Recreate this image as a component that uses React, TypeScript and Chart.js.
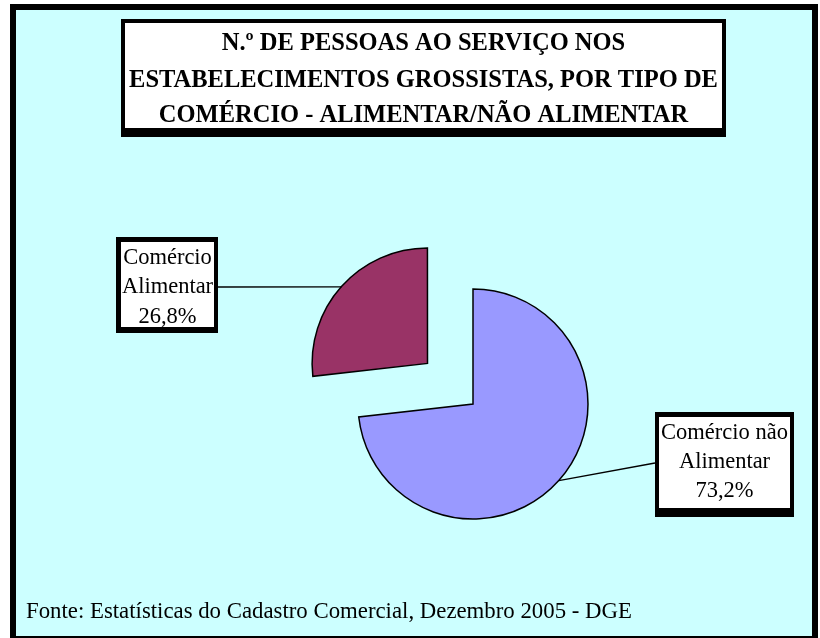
import React, { useEffect, useRef } from "react";
import { Chart, registerables } from "chart.js";

Chart.register(...registerables);

// ---- data ----
const categories = ["Comércio não Alimentar", "Comércio Alimentar"];
const values = [73.2, 26.8];
const sliceColors = ["#9999FF", "#993366"];
const sliceOffsets = [0, 244];
const labelFirstLines = [["Comércio não", "Alimentar"], ["Comércio", "Alimentar"]];
const titleLines = [
  "N.º DE PESSOAS AO SERVIÇO NOS",
  "ESTABELECIMENTOS GROSSISTAS, POR TIPO DE",
  "COMÉRCIO - ALIMENTAR/NÃO ALIMENTAR",
];
const footerText = "Fonte: Estatísticas do Cadastro Comercial, Dezembro 2005 - DGE";

// ---- layout (positions only) ----
const W = 820;
const H = 638;
const SERIF = '"Liberation Serif", "Times New Roman", serif';
const labelBoxes = [
  { outer: [655, 412, 794, 517], inner: [659, 417, 790, 508], base: 439, lh: 29, anchorY: 463, side: "left" },
  { outer: [116, 237, 218, 333], inner: [121, 242, 214, 327], base: 263.5, lh: 29.5, anchorY: 287, side: "right" },
];

const fmtPct = (v: number) => v.toFixed(1).replace(".", ",") + "%";

const decorPlugin = {
  id: "decor",
  beforeDraw(chart: any) {
    const ctx = chart.ctx as CanvasRenderingContext2D;
    ctx.save();
    ctx.fillStyle = "#ffffff";
    ctx.fillRect(0, 0, W, H);
    ctx.fillStyle = "#000000";
    ctx.fillRect(10, 4, 808, 640);
    ctx.fillStyle = "#CCFFFF";
    ctx.fillRect(16, 10, 796, 626);
    // title box
    ctx.fillStyle = "#000000";
    ctx.fillRect(121, 19, 605, 118);
    ctx.fillStyle = "#ffffff";
    ctx.fillRect(125, 23, 597, 105);
    ctx.fillStyle = "#000000";
    ctx.font = "bold 24.5px " + SERIF;
    ctx.textAlign = "center";
    ctx.textBaseline = "alphabetic";
    const tb = [50, 86.5, 122];
    titleLines.forEach((t, i) => ctx.fillText(t, 423.5, tb[i]));
    ctx.restore();
  },
  afterDatasetsDraw(chart: any) {
    const ctx = chart.ctx as CanvasRenderingContext2D;
    const meta = chart.getDatasetMeta(0);
    ctx.save();
    meta.data.forEach((arc: any, i: number) => {
      const p = arc.getProps(["x", "y", "startAngle", "endAngle", "outerRadius"], true);
      const mid = (p.startAngle + p.endAngle) / 2;
      const off = (sliceOffsets[i] || 0) / 4;
      const cx = p.x + Math.cos(mid) * off;
      const cy = p.y + Math.sin(mid) * off;
      const px = cx + Math.cos(mid) * p.outerRadius;
      const py = cy + Math.sin(mid) * p.outerRadius;
      const b = labelBoxes[i];
      const bx = b.side === "left" ? b.outer[0] : b.outer[2];
      ctx.strokeStyle = "#000";
      ctx.lineWidth = 1.3;
      ctx.beginPath();
      ctx.moveTo(px, py);
      ctx.lineTo(bx, b.anchorY);
      ctx.stroke();
    });
    labelBoxes.forEach((b, i) => {
      ctx.fillStyle = "#000";
      ctx.fillRect(b.outer[0], b.outer[1], b.outer[2] - b.outer[0], b.outer[3] - b.outer[1]);
      ctx.fillStyle = "#fff";
      ctx.fillRect(b.inner[0], b.inner[1], b.inner[2] - b.inner[0], b.inner[3] - b.inner[1]);
      ctx.fillStyle = "#000";
      ctx.font = "22.5px " + SERIF;
      ctx.textAlign = "center";
      ctx.textBaseline = "alphabetic";
      const lines = [...labelFirstLines[i], fmtPct(values[i])];
      const cxText = (b.inner[0] + b.inner[2]) / 2;
      lines.forEach((t, j) => ctx.fillText(t, cxText, b.base + j * b.lh));
    });
    ctx.fillStyle = "#000";
    ctx.font = "22.8px " + SERIF;
    ctx.textAlign = "left";
    ctx.fillText(footerText, 26, 618);
    ctx.restore();
  },
};

export default function App() {
  const ref = useRef<HTMLCanvasElement | null>(null);
  useEffect(() => {
    if (!ref.current) return;
    const chart = new Chart(ref.current, {
      type: "pie",
      data: {
        labels: categories,
        datasets: [
          {
            data: values,
            backgroundColor: sliceColors,
            borderColor: "#000000",
            borderWidth: 1.5,
            borderJoinStyle: "miter",
            offset: sliceOffsets,
          } as any,
        ],
      },
      options: {
        responsive: false,
        maintainAspectRatio: false,
        devicePixelRatio: 1,
        animation: false,
        radius: 115,
        layout: { padding: { left: 200, right: 74, top: 250, bottom: 80 } },
        plugins: {
          legend: { display: false },
          tooltip: { enabled: false },
          title: { display: false },
        },
      } as any,
      plugins: [decorPlugin],
    });
    return () => chart.destroy();
  }, []);
  return (
    <div style={{ position: "fixed", left: 0, top: 0, width: W, height: H }}>
      <canvas ref={ref} width={W} height={H} style={{ width: W, height: H, display: "block" }} />
    </div>
  );
}
